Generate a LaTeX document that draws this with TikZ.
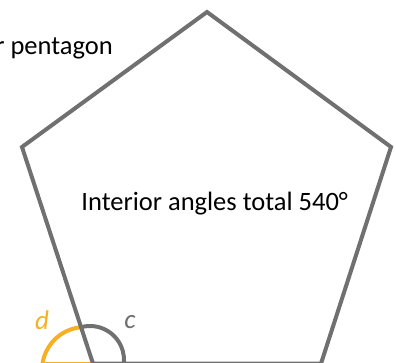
\documentclass[tikz,border=0pt]{standalone}
\usepackage{fontspec}
\setmainfont{Carlito}
\definecolor{edgegray}{RGB}{112,112,112}
\definecolor{gold}{RGB}{247,176,36}
\begin{document}
\begin{tikzpicture}[x=1pt,y=1pt,
  edge/.style={draw=edgegray,line width=4pt,line join=miter},
  arcline/.style={line width=4pt},
  lbl/.style={font=\fontsize{26.5}{30}\selectfont,inner sep=0pt},
  anglbl/.style={font=\fontsize{27}{30}\selectfont\itshape,inner sep=0pt}]
\useasboundingbox (0,0) rectangle (396,362);
\clip (0,0) rectangle (396,362);
\coordinate (T) at (207,350);
\coordinate (L) at (22,215);
\coordinate (R) at (391,215);
\coordinate (BL) at (93,-1.6);
\coordinate (BR) at (321,-1.6);
\coordinate (ext) at (45,-1.6);
% exterior extension
\draw[draw=gold,arcline] (BL) -- (ext);
% arcs
\draw[draw=gold,arcline] (85,-8) ++(95:43) arc[start angle=95,end angle=200,radius=43];
\draw[draw=edgegray,arcline] (90,2) ++(105:34) arc[start angle=105,end angle=-20,radius=34];
% pentagon
\draw[edge] (T) -- (R) -- (BR) -- (BL) -- (L) -- cycle;
% labels
\node[lbl,anchor=base east] (title) at (113,307) {r pentagon};
\node[lbl,anchor=base] (total) at (214.7,152) {Interior angles total 540°};
\node[anglbl,text=gold] (d) at (42,42) {d};
\node[anglbl,text=edgegray] (c) at (130,40) {c};
\end{tikzpicture}
\end{document}
